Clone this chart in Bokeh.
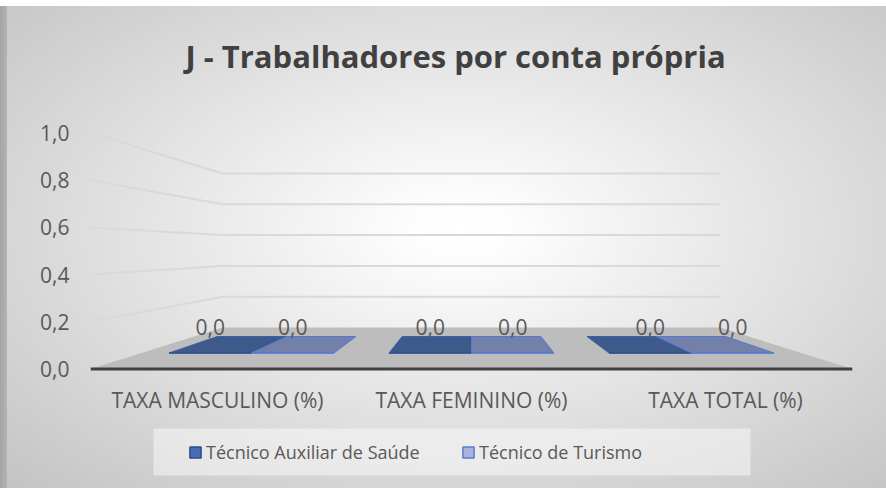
from bokeh.plotting import figure
from bokeh.layouts import column
from bokeh.models import Range1d, FixedTicker, Legend, LegendItem, BoxAnnotation
from bokeh.embed import file_html
from bokeh.resources import INLINE
from bokeh.core.properties import value

# ---------------- data ----------------
TITLE = "J - Trabalhadores por conta própria"
CATEGORIES = ["TAXA MASCULINO (%)", "TAXA FEMININO (%)", "TAXA TOTAL (%)"]
SERIES = ["Técnico Auxiliar de Saúde", "Técnico de Turismo"]
AUXILIAR_SAUDE = [0.0, 0.0, 0.0]
TURISMO = [0.0, 0.0, 0.0]
Y_TICKS = [0.0, 0.2, 0.4, 0.6, 0.8, 1.0]
Y_TICK_LABELS = ["0,0", "0,2", "0,4", "0,6", "0,8", "1,0"]

# ---------------- 3D view (style) ----------------
S_FLOOR_BACK = 0.653   # perspective scale of the back wall
S_BAR_FRONT = 0.866    # perspective scale of bar front
S_BAR_BACK = 0.728     # perspective scale of bar back
VY = 0.506             # vanishing height in value units
GROUP_W = 0.75         # share of a category used by the bars

TOP_COLORS = ["#3e5a8b", "#7381aa"]
FRONT_COLORS = ["#4a6cae", "#a5b4dd"]
EDGE_COLORS = ["#3b5fa8", "#5578d6"]
LEGEND_LINE = ["#2f4f8f", "#5b7cd0"]
TEXT = "#595959"
FONT = "Open Sans"

n = len(CATEGORIES)
CX = n / 2.0


def proj(x, v, s):
    return CX + (x - CX) * s, VY + (v - VY) * s


W = 886
FL, FW = 90, 762    # frame left / width in pixels
PX = 236.0          # pixels per value unit on the front plane
TOP, FH, BOT = 102, 270, 44
ZERO_PX = 368.5     # canvas y of value 0
ystart = -(TOP + FH - ZERO_PX) / PX
yend = ystart + FH / PX
LEG_H = 488 - (TOP + FH + BOT)

p = figure(frame_width=FW, frame_height=FH,
           x_range=Range1d(0, n), y_range=Range1d(ystart, yend),
           output_backend="svg", toolbar_location=None,
           min_border_left=FL, min_border_right=W - FL - FW,
           min_border_top=TOP, min_border_bottom=BOT)
p.border_fill_color = None
p.background_fill_color = None
p.outline_line_color = None
p.grid.visible = False

# title
p.title.text = TITLE
p.title.text_font = FONT
p.title.text_font_style = "bold"
p.title.text_font_size = "31px"
p.title.text_color = "#404040"
p.title.align = "left"
p.title.offset = 95
p.title.standoff = 51

# axes
p.yaxis.ticker = FixedTicker(ticks=Y_TICKS)
p.yaxis.major_label_overrides = dict(zip(Y_TICKS, Y_TICK_LABELS))
p.xaxis.ticker = FixedTicker(ticks=[i + 0.5 for i in range(n)])
p.xaxis.major_label_overrides = {i + 0.5: c for i, c in enumerate(CATEGORIES)}
for ax in (p.xaxis, p.yaxis):
    ax.axis_line_color = None
    ax.major_tick_line_color = None
    ax.minor_tick_line_color = None
    ax.major_tick_out = 0
    ax.major_label_text_font = FONT
    ax.major_label_text_font_size = "21px"
    ax.major_label_text_color = TEXT
p.yaxis.major_label_standoff = 21
p.xaxis.major_label_standoff = 13

# perspective gridlines (left wall + back wall)
gx, gy = [], []
for v in Y_TICKS[1:]:
    a = proj(0, v, 1.0)
    b = proj(0, v, S_FLOOR_BACK)
    c = proj(n, v, S_FLOOR_BACK)
    gx.append([a[0], b[0], c[0]])
    gy.append([a[1], b[1], c[1]])
p.multi_line(gx, gy, line_color="#d9d9d9", line_width=2)

# floor
fl = [proj(0, 0, 1.0), proj(n, 0, 1.0), proj(n, 0, S_FLOOR_BACK), proj(0, 0, S_FLOOR_BACK)]
p.patch([q[0] for q in fl], [q[1] for q in fl], fill_color="#bdbdbd", line_color=None)
p.line([fl[0][0], fl[1][0]], [fl[0][1], fl[1][1]], line_color="#404040", line_width=3)

# bars
series_vals = [AUXILIAR_SAUDE, TURISMO]
labels = []
front_faces = []
bw = GROUP_W / len(series_vals)
for j, vals in enumerate(series_vals):
    tx, ty, fx, fy = [], [], [], []
    for i, v in enumerate(vals):
        x0 = i + (1 - GROUP_W) / 2 + j * bw
        x1 = x0 + bw
        top = [proj(x0, v, S_BAR_FRONT), proj(x1, v, S_BAR_FRONT),
               proj(x1, v, S_BAR_BACK), proj(x0, v, S_BAR_BACK)]
        front = [proj(x0, 0, S_BAR_FRONT), proj(x1, 0, S_BAR_FRONT),
                 proj(x1, v, S_BAR_FRONT), proj(x0, v, S_BAR_FRONT)]
        tx.append([q[0] for q in top]); ty.append([q[1] for q in top])
        fx.append([q[0] for q in front]); fy.append([q[1] for q in front])
        c = proj((x0 + x1) / 2, v, S_BAR_FRONT)
        labels.append((c[0], c[1], f"{v:.1f}".replace(".", ",")))
    p.patches(tx, ty, fill_color=TOP_COLORS[j], line_color=EDGE_COLORS[j], line_width=1)
    p.patches(fx, fy, fill_color=FRONT_COLORS[j], line_color=LEGEND_LINE[j], line_width=1)
    front_faces.append((fx, fy))

p.text([l[0] for l in labels], [l[1] for l in labels], text=[l[2] for l in labels],
       text_font=value(FONT), text_font_size="21px", text_color=TEXT,
       text_align="center", text_baseline="alphabetic", y_offset=-26)

# legend strip (separate panel below the chart); its frame is aligned with the chart's,
# and its ranges are set in page pixels
pl = figure(width=W, height=LEG_H, x_range=Range1d(FL, FL + FW), y_range=Range1d(LEG_H, 0),
            x_axis_type=None, y_axis_type=None,
            output_backend="svg", toolbar_location=None,
            min_border_left=0, min_border_right=0, min_border_top=0, min_border_bottom=0)
pl.border_fill_color = None
pl.background_fill_color = None
pl.outline_line_color = None
pl.grid.visible = False

# light legend panel
pl.add_layout(BoxAnnotation(left=153, right=750, top=12, bottom=59,
                            fill_color="#ffffff", fill_alpha=0.45, line_color=None))

leg_renderers = [pl.patches(front_faces[j][0], front_faces[j][1], fill_color=FRONT_COLORS[j],
                            line_color=LEGEND_LINE[j], line_width=1.5, visible=False)
                 for j in range(len(SERIES))]
legend = Legend(items=[LegendItem(label=s, renderers=[r]) for s, r in zip(SERIES, leg_renderers)],
                orientation="horizontal", location=(98, 24),
                padding=10, margin=0, spacing=0, label_width=255,
                glyph_width=14, glyph_height=14,
                label_standoff=4, label_text_font=FONT, label_text_font_size="18px",
                label_text_color=TEXT, background_fill_alpha=0, border_line_color=None,
                inactive_fill_alpha=0)
pl.add_layout(legend)

layout = column(p, pl, spacing=0)
layout.styles = {"background": (
    "linear-gradient(#ffffff, #ffffff) 0 0 / 100% 6px no-repeat, "
    "linear-gradient(to right, #a4a4a4, #b4b4b4) 0 0 / 7px 100% no-repeat, "
    "radial-gradient(ellipse farthest-corner at 52% 47%, #ffffff 0%, #fdfdfd 8%, #c3c3c3 100%)")}

open("out.html", "w").write(file_html(layout, INLINE))
